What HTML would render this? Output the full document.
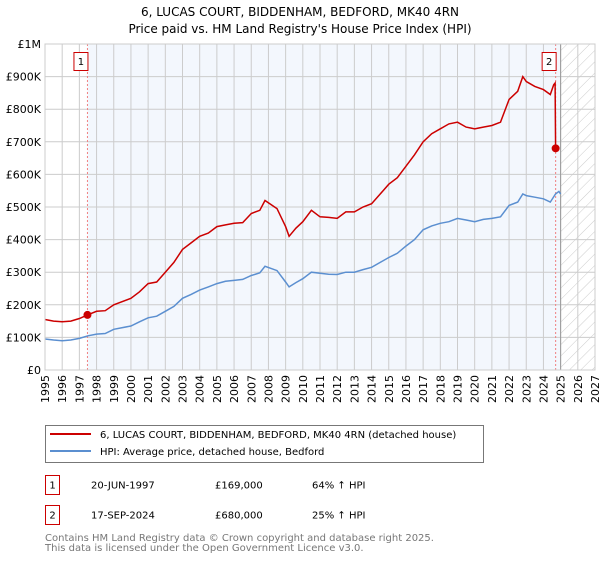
<!DOCTYPE html>
<html><head><meta charset="utf-8"><style>
body{margin:0;background:#fff;font-family:"DejaVu Sans","Liberation Sans",sans-serif;}
</style></head><body>
<svg id="chart" width="600" height="560" xmlns="http://www.w3.org/2000/svg" font-family="DejaVu Sans, Liberation Sans, sans-serif">
<defs><pattern id="hatch" width="8" height="8" patternUnits="userSpaceOnUse" patternTransform="rotate(45)"><line x1="0" y1="0" x2="0" y2="8" stroke="#ccc" stroke-width="1"/></pattern></defs>
<text x="300" y="16" text-anchor="middle" font-size="12">6, LUCAS COURT, BIDDENHAM, BEDFORD, MK40 4RN</text>
<text x="300" y="33" text-anchor="middle" font-size="12">Price paid vs. HM Land Registry's House Price Index (HPI)</text>
<g id="plot"></g>
<g>
<rect x="45.5" y="425.5" width="438" height="37" fill="#fff" stroke="#777"/>
<line x1="50" y1="434" x2="91" y2="434" stroke="#cc0000" stroke-width="2"/>
<text x="100" y="438" font-size="10">6, LUCAS COURT, BIDDENHAM, BEDFORD, MK40 4RN (detached house)</text>
<line x1="50" y1="451" x2="91" y2="451" stroke="#5b8fd0" stroke-width="2"/>
<text x="100" y="455" font-size="10">HPI: Average price, detached house, Bedford</text>
</g>
<g font-size="10">
<rect x="45.5" y="475.5" width="14" height="19" fill="#fff" stroke="#cc0000"/>
<text x="52.5" y="488.5" text-anchor="middle">1</text>
<text x="91" y="488.5">20-JUN-1997</text><text x="215" y="488.5">£169,000</text><text x="312" y="488.5">64% ↑ HPI</text>
<rect x="45.5" y="505.5" width="14" height="19" fill="#fff" stroke="#cc0000"/>
<text x="52.5" y="518.5" text-anchor="middle">2</text>
<text x="91" y="518.5">17-SEP-2024</text><text x="215" y="518.5">£680,000</text><text x="312" y="518.5">25% ↑ HPI</text>
</g>
<text x="45" y="541" font-size="10" fill="#777">Contains HM Land Registry data © Crown copyright and database right 2025.</text>
<text x="45" y="551" font-size="10" fill="#777">This data is licensed under the Open Government Licence v3.0.</text>
</svg>
<script>
const yTicks=[0,100000,200000,300000,400000,500000,600000,700000,800000,900000,1000000];
const yTickLabels=["£0","£100K","£200K","£300K","£400K","£500K","£600K","£700K","£800K","£900K","£1M"];
const xYears=[1995,1996,1997,1998,1999,2000,2001,2002,2003,2004,2005,2006,2007,2008,2009,2010,2011,2012,2013,2014,2015,2016,2017,2018,2019,2020,2021,2022,2023,2024,2025,2026,2027];
const hpiT=[1995,1995.5,1996,1996.5,1997,1997.5,1998,1998.5,1999,2000,2000.5,2001,2001.5,2002,2002.5,2003,2003.5,2004,2004.5,2005,2005.5,2006,2006.5,2007,2007.5,2007.8,2008.5,2009,2009.2,2009.6,2010,2010.5,2011,2011.5,2012,2012.5,2013,2013.5,2014,2014.5,2015,2015.5,2016,2016.5,2017,2017.5,2018,2018.5,2019,2019.5,2020,2020.5,2021,2021.5,2022,2022.5,2022.8,2023,2023.5,2024,2024.4,2024.7,2024.9,2025];
const hpiV=[95000,92000,90000,92000,97000,105000,110000,112000,125000,135000,148000,160000,165000,180000,195000,220000,232000,245000,255000,265000,272000,275000,278000,290000,298000,318000,305000,270000,255000,268000,280000,300000,297000,294000,293000,300000,300000,308000,315000,330000,345000,358000,380000,400000,430000,442000,450000,455000,465000,460000,455000,462000,465000,470000,505000,515000,540000,535000,530000,525000,515000,540000,548000,540000];
const ppT=[1995,1995.5,1996,1996.5,1997,1997.47,1998,1998.5,1999,2000,2000.5,2001,2001.5,2002,2002.5,2003,2003.5,2004,2004.5,2005,2005.5,2006,2006.5,2007,2007.5,2007.8,2008.5,2009,2009.2,2009.6,2010,2010.5,2011,2011.5,2012,2012.5,2013,2013.5,2014,2014.5,2015,2015.5,2016,2016.5,2017,2017.5,2018,2018.5,2019,2019.5,2020,2020.5,2021,2021.5,2022,2022.5,2022.8,2023,2023.5,2024,2024.4,2024.6,2024.68,2024.71];
const ppV=[155000,150000,148000,150000,158000,169000,180000,182000,200000,220000,240000,265000,270000,300000,330000,370000,390000,410000,420000,440000,445000,450000,452000,480000,490000,520000,495000,440000,410000,435000,455000,490000,470000,468000,465000,485000,485000,500000,510000,540000,570000,590000,625000,660000,700000,725000,740000,755000,760000,745000,740000,745000,750000,760000,830000,855000,900000,885000,870000,860000,845000,875000,880000,680000];
const sales=[{t:1997.47,v:169000,label:"1"},{t:2024.71,v:680000,label:"2"}];
const NS="http://www.w3.org/2000/svg";
const X0=45,X1=595,Y0=370,Y1=44;
function xs(t){return X0+(t-1995)/(2027-1995)*(X1-X0);}
function ys(v){return Y0-v/1000000*(Y0-Y1);}
const g=document.getElementById('plot');
function mk(tag,attrs,parent){const e=document.createElementNS(NS,tag);for(const k in attrs)e.setAttribute(k,attrs[k]);(parent||g).appendChild(e);return e;}
const bg=mk('rect',{x:xs(sales[0].t),y:Y1,width:xs(2025)-xs(sales[0].t),height:Y0-Y1,fill:'#eef3fc',opacity:0.7});


const ht=mk('rect',{x:xs(2025),y:Y1,width:X1-xs(2025),height:Y0-Y1,fill:'url(#hatch)'});


xYears.forEach(yr=>{const l=mk('line',{x1:xs(yr),x2:xs(yr),y1:Y1,y2:Y0,stroke:'#ccc','stroke-width':1});


const t=mk('text',{x:0,y:0,'font-size':11,'text-anchor':'end',transform:`translate(${xs(yr)+4},${Y0+5}) rotate(-90)`});
t.textContent=yr;

});
yTicks.forEach((v,i)=>{const l=mk('line',{x1:X0,x2:X1,y1:ys(v),y2:ys(v),stroke:'#ccc','stroke-width':1});


const t=mk('text',{x:X0-4,y:ys(v)+4,'font-size':11,'text-anchor':'end'});
t.textContent=yTickLabels[i];

});
const nowL=mk('line',{x1:xs(2025),x2:xs(2025),y1:Y1,y2:Y0,stroke:'#999','stroke-width':1});


sales.forEach(s=>{const l=mk('line',{x1:xs(s.t),x2:xs(s.t),y1:Y1,y2:Y0,stroke:'#f08080','stroke-width':1,'stroke-dasharray':'2,2'});


const r=mk('rect',{x:xs(s.t)-13.5,y:52.5,width:14,height:18,fill:'#fff',stroke:'#cc0000'});


const t=mk('text',{x:xs(s.t)-6.5,y:65,'font-size':10,'text-anchor':'middle'});
t.textContent=s.label;

});
function path(T,V){return T.map((t,i)=>(i?'L':'M')+xs(t).toFixed(1)+','+ys(V[i]).toFixed(1)).join('');}
const hp=mk('path',{d:path(hpiT,hpiV),fill:'none',stroke:'#5b8fd0','stroke-width':1.5});


const pp=mk('path',{d:path(ppT,ppV),fill:'none',stroke:'#cc0000','stroke-width':1.5});


sales.forEach(s=>{const c=mk('circle',{cx:xs(s.t),cy:ys(s.v),r:4,fill:'#cc0000'});

});
const fr=mk('rect',{x:X0,y:Y1,width:X1-X0,height:Y0-Y1,fill:'none',stroke:'#ccc'});


</script>
</body></html>
